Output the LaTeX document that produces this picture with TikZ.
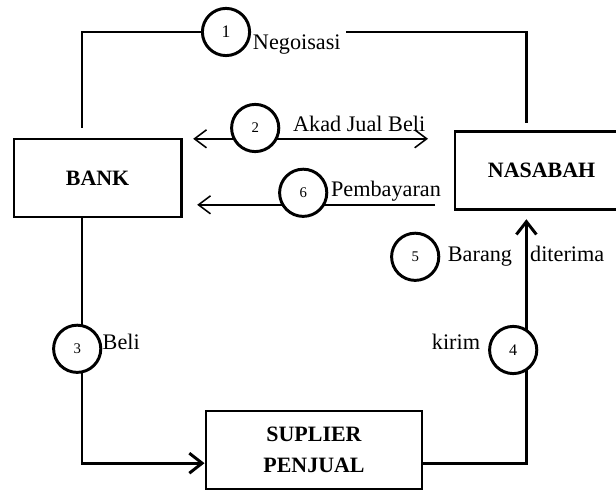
\documentclass[tikz,border=0pt]{standalone}
\usepackage{fontspec}
\setmainfont{Liberation Serif}
\usetikzlibrary{arrows.meta,backgrounds}

\begin{document}
\begin{tikzpicture}[
        party/.style   = {draw, line width=2.1pt, minimum height=1.95cm, align=center,
                          font=\fontsize{15.6}{22}\selectfont\bfseries},
        stepnum/.style = {draw, circle, line width=2.1pt, fill=white, minimum size=1.18cm,
                          inner sep=0pt, font=\fontsize{10.5}{12}\selectfont},
        lbl/.style     = {font=\fontsize{15.8}{18}\selectfont, inner sep=1pt, anchor=base},
        flow/.style    = {line width=2.1pt},
        talk/.style    = {line width=1.1pt},
        bigtip/.style  = {-{Straight Barb[length=0.32cm,width=0.50cm]}},
        onetip/.style  = {-{Straight Barb[length=0.30cm,width=0.45cm]}},
        twotip/.style  = {{Straight Barb[length=0.30cm,width=0.45cm]}-{Straight Barb[length=0.30cm,width=0.45cm]}}
    ]
            \useasboundingbox (0.00, 0.00) rectangle (15.40, 12.30);

            % the three parties
            \node[party, minimum width=4.18cm] (bank)    at ( 2.44, 7.85) {BANK};
            \node[party, minimum width=4.33cm] (nasabah) at (13.54, 8.03) {NASABAH};
            \node[party, minimum width=5.40cm] (suplier) at ( 7.85, 1.05) {SUPLIER\\PENJUAL};

            % numbered steps
            \node[stepnum, font=\fontsize{12.5}{14}\selectfont] (s1) at ( 5.65,11.50) {1};
            \node[stepnum] (s2) at ( 6.38, 9.10) {2};
            \node[stepnum] (s6) at ( 7.58, 7.48) {6};
            \node[stepnum] (s5) at (10.38, 5.88) {5};
            \node[stepnum, font=\fontsize{11.5}{13}\selectfont] (s4) at (12.83, 3.55) {4};
            \node[stepnum] (s3) at ( 1.93, 3.58) {3};

            % labels
            \node[lbl] (negoisasi)  at ( 7.42,11.05) {Negoisasi};
            \node[lbl] (akad)       at ( 8.98, 9.00) {Akad Jual Beli};
            \node[lbl] (pembayaran) at ( 9.65, 7.39) {Pembayaran};
            \node[lbl] (barang)     at (12.00, 5.75) {Barang};
            \node[lbl] (diterima)   at (14.18, 5.75) {diterima};
            \node[lbl] (kirim)      at (11.40, 3.55) {kirim};
            \node[lbl] (beli)       at ( 3.03, 3.55) {Beli};

            % corner and end points
            \coordinate (lx)  at ( 2.05, 0.00);
            \coordinate (rx)  at (13.16, 0.00);
            \coordinate (tl)  at ( 2.05, 9.10);
            \coordinate (tr)  at (13.16, 9.23);
            \coordinate (ts)  at ( 8.65,11.50);
            \coordinate (a2l) at ( 4.83, 8.83);
            \coordinate (a2r) at (10.70, 8.83);
            \coordinate (a6r) at (10.88, 7.18);
            \coordinate (a6l) at ( 4.93, 7.18);

            % connectors, behind the circles
            \begin{scope}[on background layer]
                \draw[flow]         (tl) |- (s1.west);
                \draw[flow]         (ts) -| (tr);
                \draw[talk, twotip] (a2l) -- (a2r);
                \draw[talk, onetip] (a6r) -- (a6l);
                \draw[flow, bigtip] (bank.south -| lx) |- ([yshift=-0.33cm]suplier.west);
                \draw[flow, bigtip] ([yshift=-0.33cm]suplier.east) -| ([yshift=-0.20cm]nasabah.south -| rx);
            \end{scope}
        \end{tikzpicture}
\end{document}
